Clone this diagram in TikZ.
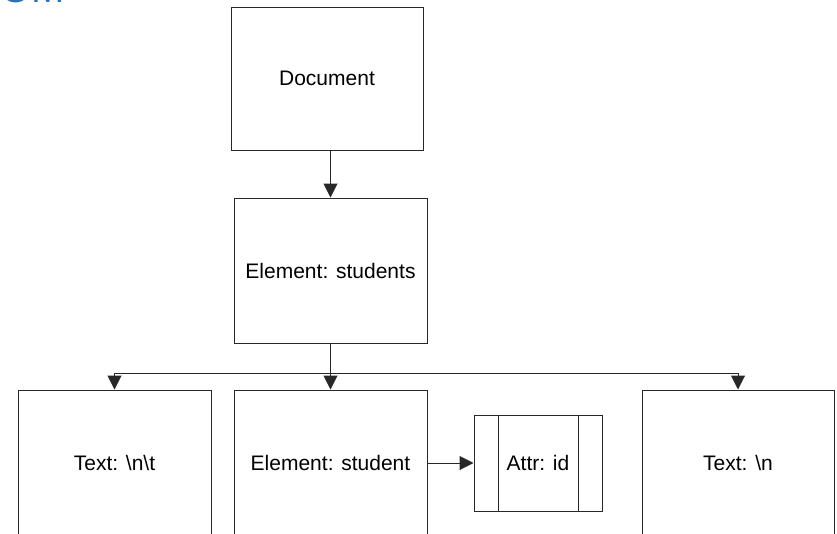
\documentclass[tikz,border=0pt]{standalone}
\usepackage{fontspec}
\setmainfont{Liberation Sans}
\usetikzlibrary{arrows.meta, positioning}
\definecolor{titleblue}{RGB}{46,112,178}
\definecolor{linegrey}{RGB}{40,40,40}

\begin{document}
\begin{tikzpicture}[
  x=1pt, y=-1pt,
  box/.style={rectangle, draw=linegrey, line width=1pt, fill=white, font=\fontsize{21}{25}\selectfont, inner sep=0pt},
  attrbox/.style={box, minimum width=128pt, minimum height=96pt},
  arrow/.style={-{Triangle[length=14pt, width=14pt]}, draw=linegrey, line width=1pt},
]
\useasboundingbox (0,0) rectangle (837,533);
\clip (0,0) rectangle (837,533);

% Title
\node[anchor=base west, text=titleblue, font=\fontsize{40}{48}\selectfont, inner sep=0pt] (title) at (0,2) {OM};

% Nodes
\node[box, minimum width=192pt, minimum height=143pt] (doc) at (327,78.5) {Document};
\node[box, minimum width=193pt, minimum height=145pt] (students) at (330.5,270.5) {Element: students};
\node[box, minimum width=193pt, minimum height=146pt] (textnt) at (114.5,463) {Text: \textbackslash n\textbackslash t};
\node[box, minimum width=193pt, minimum height=146pt] (student) at (330.5,463) {Element: student};
\node[attrbox] (attr) at (538,463) {Attr: id};
\node[box, minimum width=192pt, minimum height=146pt] (textn) at (738,463) {Text: \textbackslash n};

% Attr side bars
\draw[linegrey, line width=1pt] ([xshift=25pt]attr.north west) -- ([xshift=25pt]attr.south west);
\draw[linegrey, line width=1pt] ([xshift=-24pt]attr.north east) -- ([xshift=-24pt]attr.south east);

% Arrows
\coordinate (split) at (330,373);
\draw[arrow] (doc.south -| students.north) -- (students.north);
\draw[arrow] (students) -- (student);
\draw[arrow] (split) -| (textnt.north);
\draw[arrow] (split) -| (textn.north);
\draw[arrow] (student) -- (attr);

\end{tikzpicture}
\end{document}
